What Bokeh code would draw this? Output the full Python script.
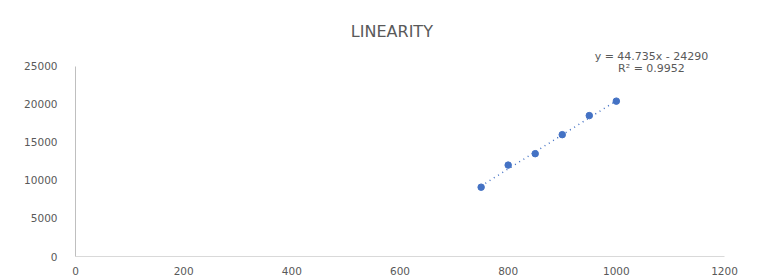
from bokeh.plotting import figure
from bokeh.models import Range1d, Label, FixedTicker
from bokeh.embed import file_html
from bokeh.resources import INLINE

# data
conc = [750, 800, 850, 900, 950, 1000]
area = [9100, 12000, 13500, 16000, 18500, 20400]
slope = 44.735
intercept = -24290
x_ticks = [0, 200, 400, 600, 800, 1000, 1200]
y_ticks = [0, 5000, 10000, 15000, 20000, 25000]
title_text = "LINEARITY"
eq_text = "y = 44.735x - 24290"
r2_text = "R\u00b2 = 0.9952"

FONT = "DejaVu Sans"
TXT = "#595959"

p = figure(width=755, height=277, output_backend="svg", toolbar_location=None,
           x_range=Range1d(0, 1200), y_range=Range1d(0, 32300),
           min_border_left=75, min_border_right=31, min_border_top=10, min_border_bottom=19)
p.outline_line_color = None
p.xgrid.visible = False
p.ygrid.visible = False

for ax in (p.xaxis[0], p.yaxis[0]):
    ax.major_tick_line_color = None
    ax.minor_tick_line_color = None
    ax.major_label_text_font = FONT
    ax.major_label_text_font_size = "10.5px"
    ax.major_label_text_color = TXT
p.xaxis.ticker = FixedTicker(ticks=x_ticks)
p.yaxis.ticker = FixedTicker(ticks=y_ticks)
p.yaxis.bounds = (0, 25000)
p.xaxis.axis_line_color = "#D9D9D9"
p.yaxis.axis_line_color = "#BFBFBF"
p.xaxis.major_label_standoff = 4
p.yaxis.major_label_standoff = 12

# trendline
tx = [min(conc), max(conc)]
ty = [slope * v + intercept for v in tx]
p.line(tx, ty, line_color="#4472C4", line_width=1.5, line_dash="1 4")
p.scatter(conc, area, size=6.5, color="#4472C4")

p.add_layout(Label(x=585, y=29500, text=title_text, text_align="center", text_baseline="middle",
                   text_font=FONT, text_font_size="16px", text_color=TXT))
ex = 1065
p.add_layout(Label(x=ex, y=26300, text=eq_text, text_align="center", text_baseline="middle",
                   text_font=FONT, text_font_size="11px", text_color=TXT))
p.add_layout(Label(x=ex, y=24750, text=r2_text, text_align="center", text_baseline="middle",
                   text_font=FONT, text_font_size="11px", text_color=TXT))

open("out.html", "w").write(file_html(p, INLINE))
